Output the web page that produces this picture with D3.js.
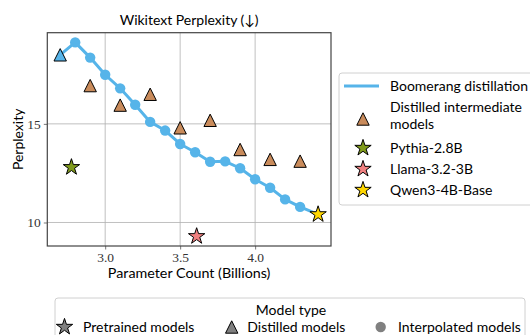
<!DOCTYPE html>
<html>
<head>
<meta charset="utf-8">
<script src="https://cdn.jsdelivr.net/npm/d3@7"></script>
<style>
  html, body { margin: 0; padding: 0; background: #fff; }
  svg { display: block; }
  .sans { font-family: "Lato", "DejaVu Sans", sans-serif; fill: #000; }
  .serif { font-family: "Liberation Serif", "DejaVu Serif", serif; fill: #333; }
</style>
</head>
<body>
<svg id="chart" width="530" height="335"></svg>
<script>
// Boomerang distillation curve: parameter count (billions) vs Wikitext perplexity
const boomerangParams = [2.7, 2.8, 2.9, 3.0, 3.1, 3.2, 3.3, 3.4, 3.5, 3.6, 3.7, 3.8, 3.9, 4.0, 4.1, 4.2, 4.3, 4.42];
const boomerangPpl    = [18.5, 19.13, 18.36, 17.49, 16.8, 15.97, 15.1, 14.66, 13.98, 13.56, 13.08, 13.1, 12.75, 12.19, 11.76, 11.17, 10.79, 10.41];

// Distilled intermediate models
const distilledParams = [2.9, 3.1, 3.3, 3.5, 3.7, 3.9, 4.1, 4.3];
const distilledPpl    = [16.94, 15.95, 16.5, 14.8, 15.18, 13.7, 13.2, 13.11];

// Pretrained reference models
const pretrainedNames  = ["Pythia-2.8B", "Llama-3.2-3B", "Qwen3-4B-Base"];
const pretrainedParams = [2.775, 3.61, 4.42];
const pretrainedPpl    = [12.8, 9.3, 10.41];
const pretrainedColors = ["#7f9a1c", "#f08080", "#ffd700"];

const xTicks = [3.0, 3.5, 4.0];
const yTicks = [10, 15];

const blue = "#56b4e9";
const brown = "#c98b5b";

const svg = d3.select("#chart");
const margin = { left: 47.3, right: 331, top: 32.7, bottom: 246 };

// matplotlib-style 5% padding around the data
const allX = boomerangParams.concat(distilledParams, pretrainedParams);
const allY = boomerangPpl.concat(distilledPpl, pretrainedPpl);
const [x0, x1] = d3.extent(allX);
const [y0, y1] = d3.extent(allY);
const px = (x1 - x0) * 0.05, py = (y1 - y0) * 0.05;

const x = d3.scaleLinear().domain([x0 - px, x1 + px]).range([margin.left, margin.right]);
const y = d3.scaleLinear().domain([y0 - py, y1 + py]).range([margin.bottom, margin.top]);

// Marker paths (bbox-centred triangle, 5-point star)
function triPath(r) {
  return `M0,${-r}L${r},${r}L${-r},${r}Z`;
}
function starPath(R) {
  const rIn = R * 0.381966;
  const pts = [];
  for (let i = 0; i < 10; i++) {
    const a = -Math.PI / 2 + i * Math.PI / 5;
    const rr = i % 2 === 0 ? R : rIn;
    pts.push([rr * Math.cos(a), rr * Math.sin(a)]);
  }
  return "M" + pts.map(p => p[0].toFixed(2) + "," + p[1].toFixed(2)).join("L") + "Z";
}

// Grid
const grid = svg.append("g");
grid.selectAll("line.gx").data(xTicks).join("line")
  .attr("x1", d => x(d)).attr("x2", d => x(d))
  .attr("y1", margin.top).attr("y2", margin.bottom)
  .attr("stroke", "#b0b0b0").attr("stroke-width", 0.8);
grid.selectAll("line.gy").data(yTicks).join("line")
  .attr("y1", d => y(d)).attr("y2", d => y(d))
  .attr("x1", margin.left).attr("x2", margin.right)
  .attr("stroke", "#b0b0b0").attr("stroke-width", 0.8);

// Axes
const xAxis = svg.append("g").attr("transform", `translate(0,${margin.bottom})`)
  .call(d3.axisBottom(x).tickValues(xTicks).tickFormat(d3.format(".1f")).tickSize(3.5).tickPadding(3));
const yAxis = svg.append("g").attr("transform", `translate(${margin.left},0)`)
  .call(d3.axisLeft(y).tickValues(yTicks).tickFormat(d3.format("d")).tickSize(3.5).tickPadding(3));
[xAxis, yAxis].forEach(a => {
  a.select(".domain").remove();
  a.selectAll(".tick line").attr("stroke", "#555").attr("stroke-width", 0.8);
  a.selectAll(".tick text").attr("class", "serif").attr("font-size", 13.5).attr("fill", "#333");
});

// Frame
svg.append("rect")
  .attr("x", margin.left).attr("y", margin.top)
  .attr("width", margin.right - margin.left).attr("height", margin.bottom - margin.top)
  .attr("fill", "none").attr("stroke", "#444").attr("stroke-width", 1.2);

// Boomerang line
const line = d3.line().x((d, i) => x(boomerangParams[i])).y(d => y(d));
svg.append("path").datum(boomerangPpl)
  .attr("d", line).attr("fill", "none")
  .attr("stroke", blue).attr("stroke-width", 3).attr("stroke-linejoin", "round");

// Interpolated models (circles) — interior points of the curve
const interp = boomerangPpl.slice(1, -1).map((v, i) => [boomerangParams[i + 1], v]);
svg.append("g").selectAll("circle").data(interp).join("circle")
  .attr("cx", d => x(d[0])).attr("cy", d => y(d[1])).attr("r", 5.2)
  .attr("fill", blue);

// Distilled intermediate models
svg.append("g").selectAll("path").data(distilledParams.map((v, i) => [v, distilledPpl[i]])).join("path")
  .attr("d", triPath(6.2))
  .attr("transform", d => `translate(${x(d[0])},${y(d[1])})`)
  .attr("fill", brown).attr("stroke", "#000").attr("stroke-width", 1);

// Starting distilled model on the curve
svg.append("path")
  .attr("d", triPath(6.2))
  .attr("transform", `translate(${x(boomerangParams[0])},${y(boomerangPpl[0])})`)
  .attr("fill", blue).attr("stroke", "#000").attr("stroke-width", 1);

// Pretrained models (stars)
svg.append("g").selectAll("path").data(pretrainedParams.map((v, i) => [v, pretrainedPpl[i], pretrainedColors[i]])).join("path")
  .attr("d", starPath(8.6))
  .attr("transform", d => `translate(${x(d[0])},${y(d[1])})`)
  .attr("fill", d => d[2]).attr("stroke", "#000").attr("stroke-width", 1);

// Title and axis labels
svg.append("text").attr("class", "sans").attr("x", (margin.left + margin.right) / 2).attr("y", 25)
  .attr("text-anchor", "middle").attr("font-size", 14).text("Wikitext Perplexity (↓)");
svg.append("text").attr("class", "sans").attr("x", (margin.left + margin.right) / 2).attr("y", 278)
  .attr("text-anchor", "middle").attr("font-size", 14.3).text("Parameter Count (Billions)");
svg.append("text").attr("class", "sans")
  .attr("transform", `translate(23,${(margin.top + margin.bottom) / 2}) rotate(-90)`)
  .attr("text-anchor", "middle").attr("font-size", 14).text("Perplexity");

// Right legend
const lg = svg.append("g");
lg.append("rect").attr("x", 339).attr("y", 73).attr("width", 200).attr("height", 132)
  .attr("rx", 3).attr("fill", "#fff").attr("fill-opacity", 0.8).attr("stroke", "#d0d0d0");
lg.append("line").attr("x1", 344).attr("x2", 379).attr("y1", 86).attr("y2", 86)
  .attr("stroke", blue).attr("stroke-width", 3);
lg.append("text").attr("class", "sans").attr("x", 390).attr("y", 91).attr("font-size", 14).text("Boomerang distillation");
lg.append("path").attr("d", triPath(6.2)).attr("transform", "translate(363,119)")
  .attr("fill", brown).attr("stroke", "#000").attr("stroke-width", 1);
lg.append("text").attr("class", "sans").attr("x", 390).attr("y", 112).attr("font-size", 14).text("Distilled intermediate");
lg.append("text").attr("class", "sans").attr("x", 390).attr("y", 129).attr("font-size", 14).text("models");
const starRows = [148, 169, 190];
pretrainedNames.forEach((n, i) => {
  lg.append("path").attr("d", starPath(8.6)).attr("transform", `translate(363,${starRows[i]})`)
    .attr("fill", pretrainedColors[i]).attr("stroke", "#000").attr("stroke-width", 1);
  lg.append("text").attr("class", "sans").attr("x", 390).attr("y", starRows[i] + 5).attr("font-size", 14).text(n);
});

// Bottom legend: model type
const bl = svg.append("g");
bl.append("rect").attr("x", 55).attr("y", 298).attr("width", 470).attr("height", 50)
  .attr("rx", 3).attr("fill", "#fff").attr("fill-opacity", 0.8).attr("stroke", "#d0d0d0");
bl.append("text").attr("class", "sans").attr("x", 291).attr("y", 315).attr("text-anchor", "middle")
  .attr("font-size", 14).text("Model type");
const rowY = 327;
bl.append("path").attr("d", starPath(8.6)).attr("transform", `translate(64.5,${rowY})`)
  .attr("fill", "#808080").attr("stroke", "#000").attr("stroke-width", 1);
bl.append("text").attr("class", "sans").attr("x", 83).attr("y", rowY + 5).attr("font-size", 14).text("Pretrained models");
bl.append("path").attr("d", triPath(6.2)).attr("transform", `translate(231.7,${rowY})`)
  .attr("fill", "#808080").attr("stroke", "#000").attr("stroke-width", 1);
bl.append("text").attr("class", "sans").attr("x", 247.3).attr("y", rowY + 5).attr("font-size", 14).text("Distilled models");
bl.append("circle").attr("cx", 380.7).attr("cy", rowY).attr("r", 5.2).attr("fill", "#808080");
bl.append("text").attr("class", "sans").attr("x", 398).attr("y", rowY + 5).attr("font-size", 14).text("Interpolated models");
</script>
</body>
</html>
